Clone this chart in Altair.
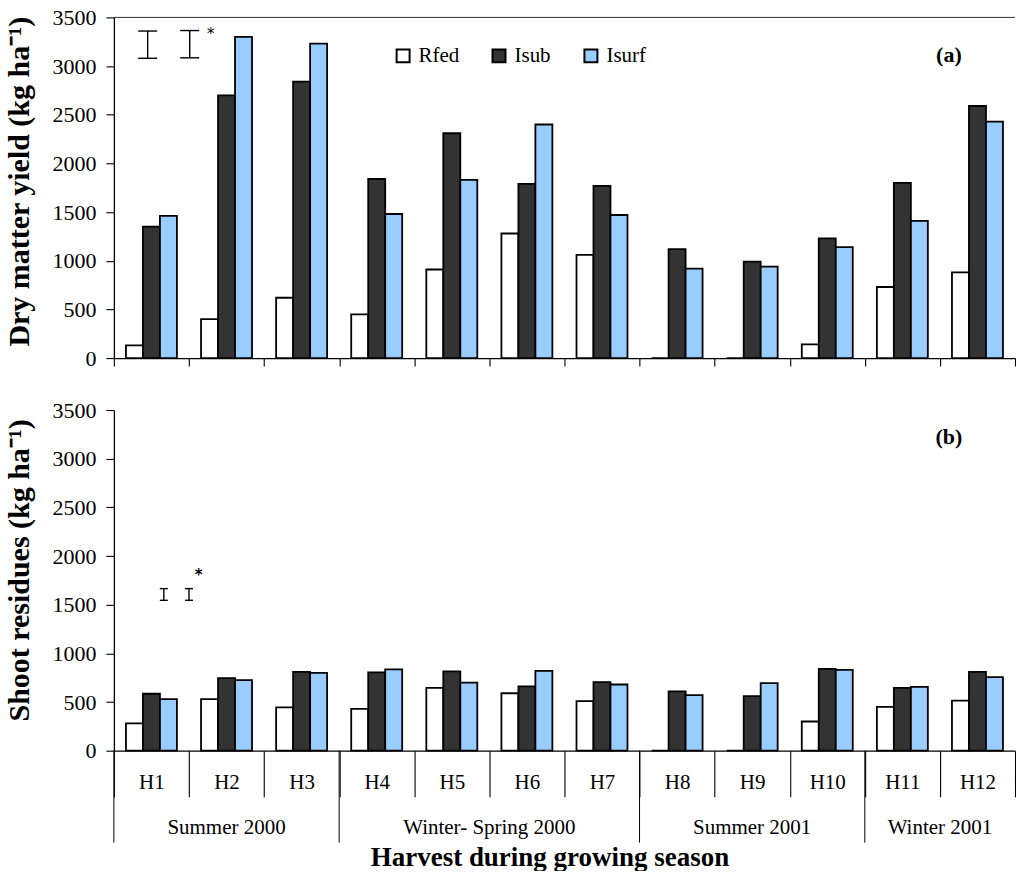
import altair as alt
import pandas as pd

# Harvest labels and treatments
harvests = ["H1", "H2", "H3", "H4", "H5", "H6", "H7", "H8", "H9", "H10", "H11", "H12"]
treatments = ["Rfed", "Isub", "Isurf"]
fill_colors = ["#ffffff", "#333333", "#99ccff"]

# (a) dry matter yield, kg/ha
rfed_yield = [130, 400, 620, 450, 910, 1280, 1060, 0, 0, 140, 730, 880]
isub_yield = [1350, 2700, 2840, 1840, 2310, 1790, 1770, 1120, 990, 1230, 1800, 2590]
isurf_yield = [1460, 3300, 3230, 1480, 1830, 2400, 1470, 920, 940, 1140, 1410, 2430]

# (b) shoot residues, kg/ha
rfed_resid = [280, 530, 445, 430, 645, 590, 510, 0, 0, 300, 450, 515]
isub_resid = [585, 745, 810, 805, 815, 660, 705, 610, 560, 840, 645, 810]
isurf_resid = [530, 725, 800, 835, 700, 820, 680, 570, 695, 830, 655, 755]

# Growing seasons: first harvest of each season, label anchor harvest and its band position
season_names = ["Summer 2000", "Winter- Spring 2000", "Summer 2001", "Winter 2001"]
season_starts = ["H1", "H4", "H8", "H11"]
season_label_at = ["H2", "H6", "H9", "H12"]
season_label_band = [0.5, 0.0, 0.5, 0.0]

# LSD bars: (harvest, band position, low, high)
lsd_yield = [("H1", 0.45, 3080, 3360), ("H2", 0.01, 3085, 3365)]
lsd_resid = [("H1", 0.665, 1545, 1665), ("H2", 0.0, 1545, 1665)]

SERIF = "Liberation Serif"
PLOT_W = 902
PLOT_H = 341

x_scale = alt.Scale(domain=harvests, paddingInner=0, paddingOuter=0)
xoff_scale = alt.Scale(domain=treatments, paddingInner=0, paddingOuter=0.71)
y_scale = alt.Scale(domain=[0, 3500], nice=False, zero=True)
color_scale = alt.Scale(domain=treatments, range=fill_colors)

y_axis_common = dict(
    values=list(range(0, 3501, 500)),
    format="d",
    tickSize=8,
    labelPadding=10,
    labelFontSize=22,
    titleFontSize=30,
    titlePadding=17,
    grid=False,
)


def long_table(r, s, f):
    rows = []
    for i, h in enumerate(harvests):
        for t, v in zip(treatments, (r[i], s[i], f[i])):
            rows.append({"harvest": h, "treatment": t, "value": v})
    return pd.DataFrame(rows)


def lsd_layers(specs, cap):
    # vertical stem plus a horizontal cap at each end
    layers = []
    cap_shape = "M-1,0L1,0"
    for h, bp, lo, hi in specs:
        d = pd.DataFrame({"harvest": [h], "value": [lo], "value2": [hi]})
        ends = pd.DataFrame({"harvest": [h, h], "value": [lo, hi]})
        layers.append(
            alt.Chart(d).mark_rule(color="black", strokeWidth=1.4).encode(
                x=alt.X("harvest:N", bandPosition=bp, scale=x_scale),
                y=alt.Y("value:Q", scale=y_scale),
                y2="value2:Q",
            )
        )
        layers.append(
            alt.Chart(ends).mark_point(
                shape=cap_shape, size=cap * cap, filled=False, stroke="black",
                strokeWidth=1.4, opacity=1,
            ).encode(
                x=alt.X("harvest:N", bandPosition=bp, scale=x_scale),
                y=alt.Y("value:Q", scale=y_scale),
            )
        )
    return layers


def star(h, bp, v, size, weight):
    d = pd.DataFrame({"harvest": [h], "value": [v], "label": ["*"]})
    return alt.Chart(d).mark_text(font="DejaVu Sans", fontSize=size, fontWeight=weight, color="black").encode(
        x=alt.X("harvest:N", bandPosition=bp, scale=x_scale),
        y=alt.Y("value:Q", scale=y_scale),
        text="label:N",
    )


def panel_tag(text, v):
    d = pd.DataFrame({"harvest": ["H12"], "value": [v], "label": [text]})
    return alt.Chart(d).mark_text(font=SERIF, fontSize=22, fontWeight="bold", color="black").encode(
        x=alt.X("harvest:N", bandPosition=0.12, scale=x_scale),
        y=alt.Y("value:Q", scale=y_scale),
        text="label:N",
    )


# ---------- panel (a) ----------
bars_a = alt.Chart(long_table(rfed_yield, isub_yield, isurf_yield)).mark_bar(
    stroke="black", strokeWidth=1.8
).encode(
    x=alt.X("harvest:N", scale=x_scale, sort=harvests,
            axis=alt.Axis(title=None, labels=False, tickBand="extent", tickSize=8)),
    xOffset=alt.XOffset("treatment:N", scale=xoff_scale, sort=treatments),
    y=alt.Y("value:Q", scale=y_scale,
            axis=alt.Axis(title="Dry matter yield (kg ha\u207b\u00b9)", titleY=164, **y_axis_common)),
    color=alt.Color("treatment:N", scale=color_scale, sort=treatments,
                    legend=alt.Legend(
                        title=None, orient="none", direction="horizontal", columns=3,
                        legendX=279, legendY=28, columnPadding=29, padding=0,
                        gridAlign="none",
                        symbolType="square", symbolSize=169, symbolStrokeColor="black",
                        symbolStrokeWidth=2, symbolOpacity=1, labelFont=SERIF,
                        labelFontSize=21, labelColor="black", labelOffset=5,
                    )),
)

top_line = alt.Chart(pd.DataFrame({"value": [3500]})).mark_rule(color="#333333", strokeWidth=1).encode(
    y=alt.Y("value:Q", scale=y_scale)
)

panel_a = alt.layer(
    bars_a, top_line, *lsd_layers(lsd_yield, 19), star("H2", 0.29, 3330, 15, "normal"),
    panel_tag("(a)", 3110),
).properties(width=PLOT_W, height=PLOT_H)

# ---------- panel (b) ----------
bars_b = alt.Chart(long_table(rfed_resid, isub_resid, isurf_resid)).mark_bar(
    stroke="black", strokeWidth=1.8
).encode(
    x=alt.X("harvest:N", scale=x_scale, sort=harvests,
            axis=alt.Axis(title="Harvest during growing season", tickBand="extent", tickSize=46,
                          labelAngle=0, labelPadding=-25, labelBaseline="top",
                          titleFontSize=27, titlePadding=47, titleX=436)),
    xOffset=alt.XOffset("treatment:N", scale=xoff_scale, sort=treatments),
    y=alt.Y("value:Q", scale=y_scale,
            axis=alt.Axis(title="Shoot residues  (kg ha\u207b\u00b9)", titleY=160, **y_axis_common)),
    color=alt.Color("treatment:N", scale=color_scale, sort=treatments, legend=None),
)

season_rules = alt.Chart(pd.DataFrame({"harvest": season_starts})).mark_rule(
    color="black", strokeWidth=1
).encode(
    x=alt.X("harvest:N", bandPosition=0, scale=x_scale),
    y=alt.value(PLOT_H),
    y2=alt.value(PLOT_H + 92),
)

season_text_layers = []
for bp in sorted(set(season_label_band)):
    names = [n for n, b in zip(season_names, season_label_band) if b == bp]
    at = [h for h, b in zip(season_label_at, season_label_band) if b == bp]
    season_text_layers.append(
        alt.Chart(pd.DataFrame({"harvest": at, "season": names})).mark_text(
            font=SERIF, fontSize=21, color="black", baseline="middle"
        ).encode(
            x=alt.X("harvest:N", bandPosition=bp, scale=x_scale),
            y=alt.value(PLOT_H + 77),
            text="season:N",
        )
    )

panel_b = alt.layer(
    bars_b, season_rules, *season_text_layers, *lsd_layers(lsd_resid, 8),
    star("H2", 0.13, 1800, 15, "bold"), panel_tag("(b)", 3225),
).properties(width=PLOT_W, height=PLOT_H)

chart = alt.vconcat(panel_a, panel_b, spacing=30).resolve_scale(
    color="independent"
).properties(
    padding={"left": 5, "top": 6, "right": 0, "bottom": 0},
    background="white",
).configure_view(
    stroke=None
).configure_axis(
    domainColor="black",
    domainWidth=1.3,
    tickColor="black",
    tickWidth=1.1,
    labelFont=SERIF,
    labelFontSize=21,
    labelColor="black",
    titleFont=SERIF,
    titleFontSize=28,
    titleFontWeight="bold",
    titleColor="black",
)

chart.save("out.html", embed_options={"renderer": "svg", "actions": False})
